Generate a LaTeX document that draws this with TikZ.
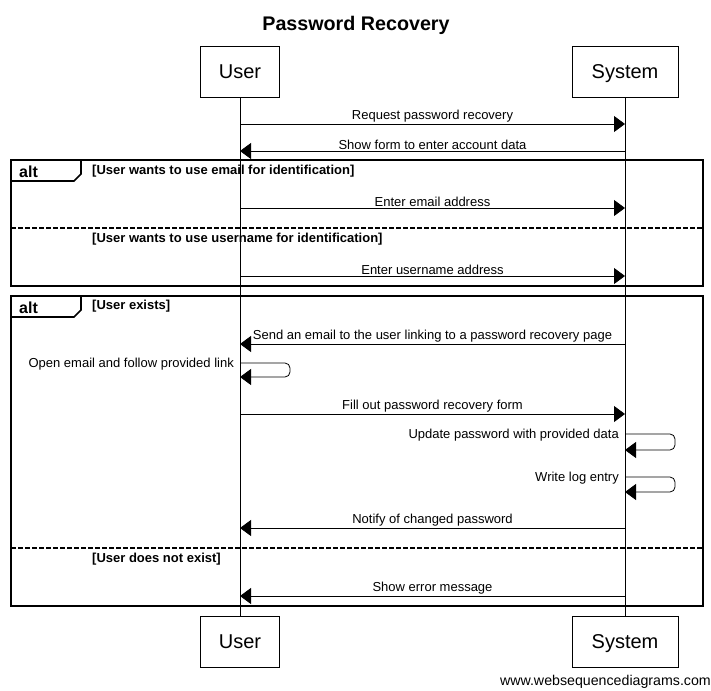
\documentclass[tikz,border=0pt]{standalone}
\usepackage{fontspec}
\setmainfont{Liberation Sans}
\usetikzlibrary{arrows.meta}
\begin{document}
\begin{tikzpicture}[x=1pt,y=-1pt,
  actor/.style={draw,line width=0.8pt,minimum width=#1,minimum height=51pt,inner sep=0pt,text height=14pt,text depth=0pt,font=\fontsize{20}{22}\selectfont},
  msg/.style={line width=0.8pt,-{Triangle[length=11pt,width=16pt]}},
  mlabel/.style={font=\fontsize{13}{15}\selectfont,inner sep=1pt},
  cond/.style={font=\fontsize{13}{15}\selectfont\bfseries,anchor=west,inner sep=0pt},
  alttag/.style={font=\fontsize{16}{18}\selectfont\bfseries,anchor=west,inner sep=0pt},
  frame/.style={line width=1.6pt},
  sep/.style={line width=1.2pt,dash pattern=on 5pt off 2pt},
  life/.style={line width=0.8pt}]
\useasboundingbox (0,0) rectangle (711,690);
\node[font=\fontsize{19.7}{22}\selectfont\bfseries] (title) at (356,25) {Password Recovery};
\node[actor=79pt] (ut) at (240,71.5) {User};
\node[actor=106pt] (st) at (625,71.5) {System};
\node[actor=79pt] (ub) at (240,641.5) {User};
\node[actor=106pt] (sb) at (625,641.5) {System};
\draw[life] (ut.south) -- (ub.north);
\draw[life] (st.south) -- (sb.north);
% message coordinates
\foreach \n/\y in {1/124,2/151,3/208,4/276,5/344,6a/363,6b/377,7/414,8a/434,8b/450,9a/477,9b/492,10/528,11/596}{
  \coordinate (u\n) at (240,\y);
  \coordinate (s\n) at (625,\y);
}
\coordinate (ur6a) at (290,363); \coordinate (ur6b) at (290,377);
\coordinate (sr8a) at (675,434); \coordinate (sr8b) at (675,450);
\coordinate (sr9a) at (675,477); \coordinate (sr9b) at (675,492);
% frames
\draw[frame] (11,160) rectangle (703,286);
\draw[frame] (11,181) -- (74,181) -- (81,174) -- (81,160);
\node[alttag] (alt1) at (19,172) {alt};
\node[cond] (c1) at (92,171) {[User wants to use email for identification]};
\draw[sep] (11,228) -- (703,228);
\node[cond] (c2) at (92,239) {[User wants to use username for identification]};
\draw[frame] (11,296) rectangle (703,606);
\draw[frame] (11,317) -- (74,317) -- (81,310) -- (81,296);
\node[alttag] (alt2) at (19,308) {alt};
\node[cond] (c3) at (92,306) {[User exists]};
\draw[sep] (11,548) -- (703,548);
\node[cond] (c4) at (92,559) {[User does not exist]};
% messages
\draw[msg] (u1) -- node[mlabel,above] {Request password recovery} (s1);
\draw[msg] (s2) -- node[mlabel,above] {Show form to enter account data} (u2);
\draw[msg] (u3) -- node[mlabel,above] {Enter email address} (s3);
\draw[msg] (u4) -- node[mlabel,above] {Enter username address} (s4);
\draw[msg] (s5) -- node[mlabel,above] {Send an email to the user linking to a password recovery page} (u5);
\draw[msg,rounded corners=5pt] (u6a) -- (ur6a) -- (ur6b) -- (u6b);
\node[mlabel,anchor=east] (l6) at (235,364) {Open email and follow provided link};
\draw[msg] (u7) -- node[mlabel,above] {Fill out password recovery form} (s7);
\draw[msg,rounded corners=5pt] (s8a) -- (sr8a) -- (sr8b) -- (s8b);
\node[mlabel,anchor=east] (l8) at (620,435) {Update password with provided data};
\draw[msg,rounded corners=5pt] (s9a) -- (sr9a) -- (sr9b) -- (s9b);
\node[mlabel,anchor=east] (l9) at (620,478) {Write log entry};
\draw[msg] (s10) -- node[mlabel,above] {Notify of changed password} (u10);
\draw[msg] (s11) -- node[mlabel,above] {Show error message} (u11);
\node[font=\fontsize{14.2}{16}\selectfont,anchor=east,inner sep=0pt] (wsd) at (711,682) {www.websequencediagrams.com};
\end{tikzpicture}
\end{document}
